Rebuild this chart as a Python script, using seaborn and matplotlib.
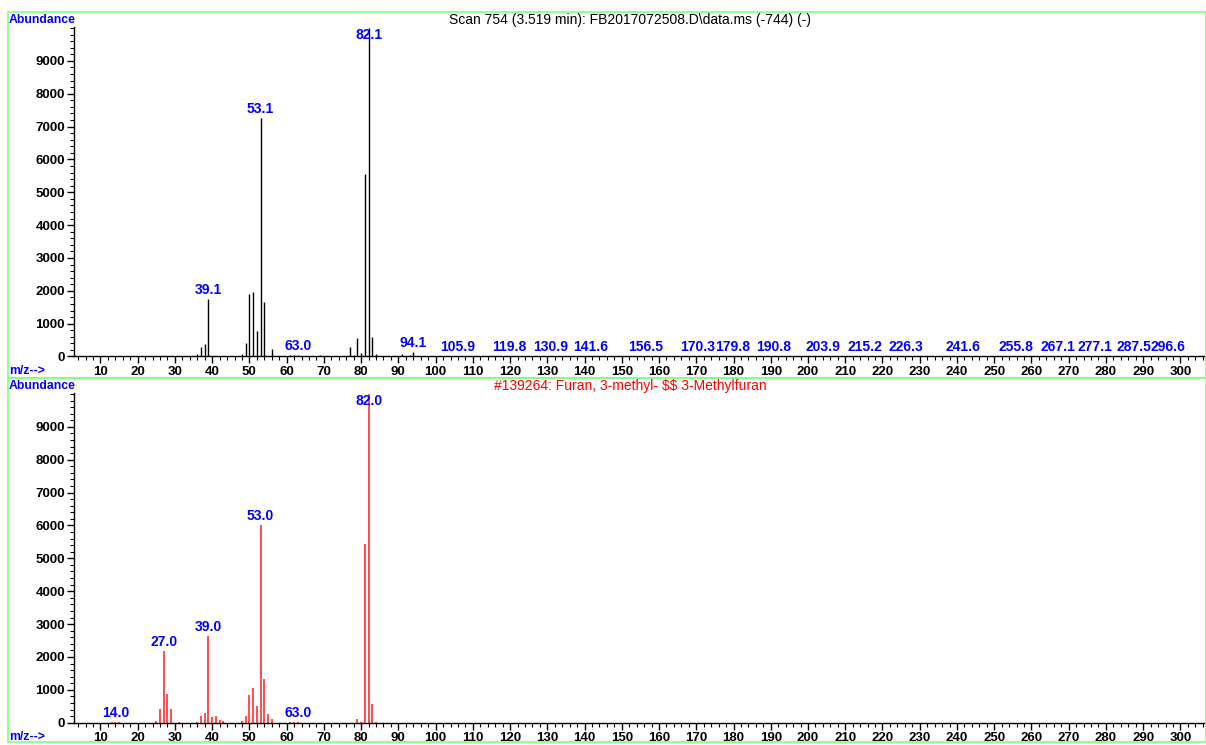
import numpy as np
import pandas as pd
import seaborn as sns
import matplotlib
matplotlib.use("Agg")
import matplotlib.pyplot as plt
from matplotlib.patches import Rectangle
from matplotlib.ticker import MultipleLocator

# ---------------- data ----------------
top_mz = [36, 37, 38, 39, 48, 49, 50, 51, 52, 53, 54, 56, 61, 62, 63, 69,
          77, 78, 79, 80, 81, 82, 83, 84, 91, 93, 94]
top_ab = [80, 300, 390, 1750, 80, 420, 1900, 1960, 790, 7250, 1650, 220, 50, 60, 50, 40,
          285, 50, 570, 100, 5570, 10000, 590, 80, 70, 40, 140]
top_small_mz = [105.9, 119.8, 130.9, 141.6, 156.5, 170.3, 179.8, 190.8, 203.9,
                215.2, 226.3, 241.6, 255.8, 267.1, 277.1, 287.5, 296.6]
top_small_ab = [10] * len(top_small_mz)
top_labels = {39: "39.1", 53: "53.1", 63: "63.0", 82: "82.1", 94: "94.1"}

bot_mz = [13, 14, 15, 25, 26, 27, 28, 29, 31, 36, 37, 38, 39, 40, 41, 42, 43,
          48, 49, 50, 51, 52, 53, 54, 55, 56, 61, 62, 63, 79, 80, 81, 82, 83, 84]
bot_ab = [10, 15, 10, 50, 415, 2175, 880, 415, 10, 30, 210, 295, 2650, 180, 210, 90, 40,
          40, 210, 840, 1050, 495, 6000, 1315, 275, 100, 15, 20, 15, 100, 20, 5430, 9990, 577, 30]
bot_labels = {14: "14.0", 27: "27.0", 39: "39.0", 53: "53.0", 63: "63.0", 82: "82.0"}

top_title = "Scan 754 (3.519 min): FB2017072508.D\\data.ms (-744) (-)"
bot_title = "#139264: Furan, 3-methyl- $$ 3-Methylfuran"
y_ticks = [0, 1000, 2000, 3000, 4000, 5000, 6000, 7000, 8000, 9000]
x_ticks = list(range(10, 301, 10))

# ---------------- style ----------------
sns.set_theme(style="white")
plt.rcParams['font.family'] = ['Liberation Sans', 'DejaVu Sans']
plt.rcParams['text.parse_math'] = False

W, H = 1206, 745
fig = plt.figure(figsize=(W / 100, H / 100), dpi=100)

BLUE = "#0000ff"
GREEN = "#80ff80"

def px_axes(left, top, right, bottom):
    return fig.add_axes([left / W, 1 - bottom / H, (right - left) / W, (bottom - top) / H])

ax_top = px_axes(74, 27, 1205, 356.5)
ax_bot = px_axes(74, 393, 1205, 722.7)

def style_axis(ax):
    ax.set_xlim(2.9, 306.6)
    ax.set_ylim(0, 10030)
    for s in ["top", "right"]:
        ax.spines[s].set_visible(False)
    for s in ["left", "bottom"]:
        ax.spines[s].set_color("black")
        ax.spines[s].set_linewidth(1.0)
    ax.set_xticks(x_ticks)
    ax.set_yticks(y_ticks)
    ax.xaxis.set_minor_locator(MultipleLocator(2))
    ax.yaxis.set_minor_locator(MultipleLocator(200))
    ax.tick_params(axis="both", which="major", direction="out", length=5, width=1,
                   color="black", labelsize=9.5, labelcolor="black", pad=1.5,
                   bottom=True, left=True)
    ax.tick_params(axis="both", which="minor", direction="out", length=3, width=0.8,
                   color="black", bottom=True, left=True)
    for lab in ax.get_xticklabels() + ax.get_yticklabels():
        lab.set_fontweight("bold")
    ax.set_xlabel("")
    ax.set_ylabel("")
    ax.grid(False)
    ax.set_facecolor("none")

def label_peaks(ax, mz, ab, labels):
    for m, a in zip(mz, ab):
        if m in labels:
            ax.annotate(labels[m], xy=(m, min(a, 9500)), xytext=(0, 1.5),
                        textcoords="offset points", ha="center", va="bottom",
                        color=BLUE, fontsize=10, fontweight="bold")

# top spectrum
df_top = pd.DataFrame({"mz": top_mz + top_small_mz, "ab": top_ab + top_small_ab})
ax_top.vlines(df_top["mz"], 0, df_top["ab"], color="black", linewidth=1.0)
style_axis(ax_top)
label_peaks(ax_top, top_mz, top_ab, top_labels)
for m in top_small_mz:
    ax_top.annotate(f"{m:.1f}", xy=(m, 10), xytext=(0, 1.5), textcoords="offset points",
                    ha="center", va="bottom", color=BLUE, fontsize=10, fontweight="bold")

# bottom spectrum
df_bot = pd.DataFrame({"mz": bot_mz, "ab": bot_ab})
ax_bot.vlines(df_bot["mz"], 0, df_bot["ab"], color="#ff4d4d", linewidth=1.4)
style_axis(ax_bot)
label_peaks(ax_bot, bot_mz, bot_ab, bot_labels)

# frames
fig.patches.append(Rectangle((8 / W, 1 - 378 / H), (W - 8) / W, (378 - 12) / H,
                             transform=fig.transFigure, fill=False, edgecolor=GREEN,
                             linewidth=1.2))
fig.patches.append(Rectangle((8 / W, 1 - 742 / H), (W - 8) / W, (742 - 378) / H,
                             transform=fig.transFigure, fill=False, edgecolor=GREEN,
                             linewidth=1.2))

# texts
for ytxt in (20, 386):
    fig.text(9 / W, 1 - ytxt / H, "Abundance", color=BLUE, fontsize=8.8, fontweight="bold",
             ha="left", va="center")
for ytxt in (371, 737):
    fig.text(9 / W, 1 - ytxt / H, "m/z-->", color=BLUE, fontsize=8.8, fontweight="bold",
             ha="left", va="center")
fig.text(630 / W, 1 - 20 / H, top_title, color="black", fontsize=10,
         ha="center", va="center")
fig.text(630 / W, 1 - 386 / H, bot_title, color="red", fontsize=10,
         ha="center", va="center", parse_math=False)

fig.savefig("out.png", dpi=100, facecolor="white")
